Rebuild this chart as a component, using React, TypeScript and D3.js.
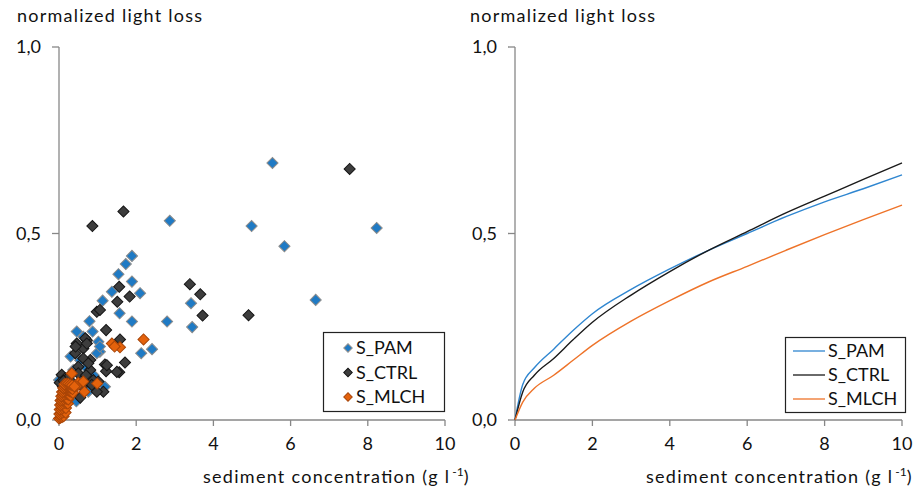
import { FC } from "react";
import * as d3 from "d3";

// scatter data (sediment g/l, normalized light loss)
const pamX = [5.53, 4.99, 8.23, 5.84, 6.65, 2.87, 1.89, 1.73, 1.54, 1.89, 2.1, 1.37, 1.13, 1.57, 0.79, 1.89, 2.8, 3.45, 3.42, 0.87, 0.46, 0.63, 1.02, 2.41, 2.13, 1.06, 0.98, 1.06, 0.37, 0.76, 1.19, 0.0, 0.2, 0.55, 0.3, 0.7, 0.15, 0.45, 0.9, 0.1, 0.6];
const pamY = [0.689, 0.52, 0.515, 0.466, 0.322, 0.534, 0.44, 0.418, 0.391, 0.371, 0.34, 0.344, 0.32, 0.286, 0.265, 0.264, 0.264, 0.249, 0.313, 0.237, 0.237, 0.223, 0.21, 0.19, 0.179, 0.183, 0.179, 0.197, 0.134, 0.076, 0.089, 0.107, 0.09, 0.16, 0.17, 0.14, 0.05, 0.05, 0.12, 0.02, 0.11];

const ctrlX = [7.53, 1.67, 0.865, 3.39, 3.66, 3.72, 4.91, 1.56, 1.83, 1.51, 0.98, 1.06, 1.22, 0.72, 0.46, 1.58, 1.71, 1.56, 1.19, 1.22, 0.63, 0.42, 0.81, 0.63, 0.5, 0.81, 0.07, 0.16, 0.5, 1.02, 0.89, 0.85, 1.15, 0.98, 0.35, 0.25, 0.3, 0.6, 0.68, 0.43, 0.72, 0.76, 1.24, 1.5, 0.2, 0.1, 0.55, 0.7, 0.02, 0.12];
const ctrlY = [0.673, 0.559, 0.52, 0.364, 0.337, 0.28, 0.281, 0.357, 0.331, 0.317, 0.29, 0.295, 0.241, 0.214, 0.205, 0.216, 0.154, 0.128, 0.149, 0.131, 0.192, 0.179, 0.161, 0.165, 0.143, 0.134, 0.121, 0.112, 0.125, 0.103, 0.107, 0.094, 0.076, 0.076, 0.1, 0.115, 0.08, 0.09, 0.219, 0.197, 0.205, 0.152, 0.147, 0.129, 0.07, 0.09, 0.06, 0.12, 0.1, 0.105];

const mlchX = [1.37, 1.58, 2.19, 1.44, 0.33, 0.5, 0.63, 0.99, 0.66, 0.45,
  0.0, 0.04, 0.08, 0.12, 0.01, 0.05, 0.09, 0.13, 0.17, 0.02, 0.06, 0.1, 0.14, 0.18, 0.03, 0.07, 0.11, 0.15, 0.19, 0.23,
  0.04, 0.08, 0.12, 0.16, 0.2, 0.24, 0.06, 0.1, 0.14, 0.18, 0.22, 0.26, 0.3, 0.08, 0.12, 0.16, 0.2, 0.24, 0.28, 0.32, 0.36,
  0.11, 0.15, 0.19, 0.23, 0.27, 0.31, 0.35, 0.14, 0.19, 0.24, 0.29, 0.34, 0.4];
const mlchY = [0.205, 0.195, 0.216, 0.197, 0.125, 0.1, 0.103, 0.098, 0.076, 0.09,
  0.004, 0.006, 0.008, 0.01, 0.016, 0.018, 0.02, 0.022, 0.02, 0.028, 0.03, 0.032, 0.034, 0.032, 0.04, 0.042, 0.044, 0.046, 0.045, 0.044,
  0.052, 0.054, 0.056, 0.058, 0.057, 0.055, 0.064, 0.066, 0.068, 0.07, 0.069, 0.067, 0.065, 0.075, 0.077, 0.079, 0.08, 0.079, 0.077, 0.075, 0.073,
  0.086, 0.088, 0.09, 0.089, 0.087, 0.085, 0.083, 0.096, 0.098, 0.097, 0.095, 0.093, 0.09];

// fitted curves, right panel
const fitX = [0, 0.2, 0.5, 1, 1.5, 2, 3, 4, 5, 6, 7, 8, 9, 10];
const fitPam = [0, 0.095, 0.14, 0.19, 0.24, 0.285, 0.35, 0.405, 0.455, 0.5, 0.545, 0.585, 0.62, 0.657];
const fitCtrl = [0, 0.075, 0.12, 0.165, 0.215, 0.262, 0.335, 0.398, 0.455, 0.505, 0.555, 0.6, 0.645, 0.689];
const fitMlch = [0, 0.048, 0.085, 0.12, 0.16, 0.2, 0.265, 0.32, 0.37, 0.412, 0.455, 0.497, 0.537, 0.576];

const xTicks = [0, 2, 4, 6, 8, 10];
const yTicks = [0, 0.5, 1];
const seriesNames = ["S_PAM", "S_CTRL", "S_MLCH"];

const fills = ["#1f7ac4", "#3d3d3d", "#e4620c"];
const strokes = ["#8c8c8c", "#151515", "#a84508"];
const lineColors = ["#2f86d0", "#1a1a1a", "#ee7329"];

const FONT = "Lato, 'Open Sans', sans-serif";
const AXIS = "#878787";

const y = d3.scaleLinear().domain([0, 1]).range([420, 47]);
const fmt = (v: number) => d3.format(".1f")(v).replace(".", ",");
const diamond = d3.symbol(d3.symbolSquare, 62)();

const Axes: FC<{ x: d3.ScaleLinear<number, number>; left: number; labelX: number }> = ({ x, left, labelX }) => {
  const x0 = x.range()[0];
  return (
    <g fontFamily={FONT} fontSize={18} fill="#111">
      <text x={left} y={22} textLength={185} lengthAdjust="spacing">normalized light loss</text>
      <line x1={x0} x2={x0} y1={y(1)} y2={y(0)} stroke={AXIS} strokeWidth={1.3} />
      <line x1={x0} x2={x.range()[1]} y1={y(0)} y2={y(0)} stroke={AXIS} strokeWidth={1.3} />
      {yTicks.map((t) => (
        <g key={t}>
          <line x1={x0 - 7} x2={x0} y1={y(t)} y2={y(t)} stroke={AXIS} strokeWidth={1.3} />
          <text x={x0 - 18} y={y(t) + 6} textAnchor="end">{fmt(t)}</text>
        </g>
      ))}
      {xTicks.map((t) => (
        <g key={t}>
          <line x1={x(t)} x2={x(t)} y1={y(0)} y2={y(0) + 6} stroke={AXIS} strokeWidth={1.3} />
          <text x={x(t)} y={450} textAnchor="middle">{t}</text>
        </g>
      ))}
      <text x={labelX} y={483}>
        <tspan textLength={246} lengthAdjust="spacing">sediment concentration (g l</tspan>
        <tspan fontSize={12} dy={-7} dx={2}>-1</tspan>
        <tspan dy={7}>)</tspan>
      </text>
    </g>
  );
};

export default function App() {
  const xl = d3.scaleLinear().domain([0, 10]).range([59, 445]);
  const xr = d3.scaleLinear().domain([0, 10]).range([515, 902]);

  const scatter = [
    d3.zip(pamX, pamY),
    d3.zip(ctrlX, ctrlY),
    d3.zip(mlchX, mlchY),
  ];
  const fits = [fitPam, fitCtrl, fitMlch];
  const line = d3
    .line<[number, number]>()
    .x((d) => xr(d[0]))
    .y((d) => y(d[1]))
    .curve(d3.curveMonotoneX);

  return (
    <svg width={917} height={492} style={{ position: "absolute", left: 0, top: 0, background: "#fff" }}>
      <Axes x={xl} left={17} labelX={203} />
      <Axes x={xr} left={470} labelX={646} />

      {scatter.map((pts, i) => (
        <g key={i} fill={fills[i]} stroke={strokes[i]} strokeWidth={1}>
          {pts.map((p, j) => (
            <path key={j} d={diamond} transform={`translate(${xl(p[0])},${y(p[1])}) rotate(45)`} />
          ))}
        </g>
      ))}

      {fits.map((f, i) => (
        <path
          key={i}
          d={line(d3.zip(fitX, f) as [number, number][]) ?? ""}
          fill="none"
          stroke={lineColors[i]}
          strokeWidth={1.4}
        />
      ))}

      {/* left legend */}
      <g fontFamily={FONT} fontSize={18} fill="#111">
        <rect x={323.5} y={332.5} width={121} height={79} fill="#fff" stroke="#222" strokeWidth={1.2} />
        {seriesNames.map((n, i) => (
          <g key={n} transform={`translate(0,${348 + i * 24.5})`}>
            <path d={d3.symbol(d3.symbolSquare, 36)() ?? ""} transform="translate(348,0) rotate(45)" fill={fills[i]} stroke={strokes[i]} />
            <text x={356} y={6} fill="#111" stroke="none">{n}</text>
          </g>
        ))}
      </g>

      {/* right legend */}
      <g fontFamily={FONT} fontSize={18} fill="#111">
        <rect x={785.5} y={337.5} width={120} height={75} fill="#fff" stroke="#222" strokeWidth={1.2} />
        {seriesNames.map((n, i) => (
          <g key={n} transform={`translate(0,${351 + i * 24})`}>
            <line x1={793} x2={825} y1={0} y2={0} stroke={lineColors[i]} strokeWidth={1.3} />
            <text x={828} y={6}>{n}</text>
          </g>
        ))}
      </g>
    </svg>
  );
}
